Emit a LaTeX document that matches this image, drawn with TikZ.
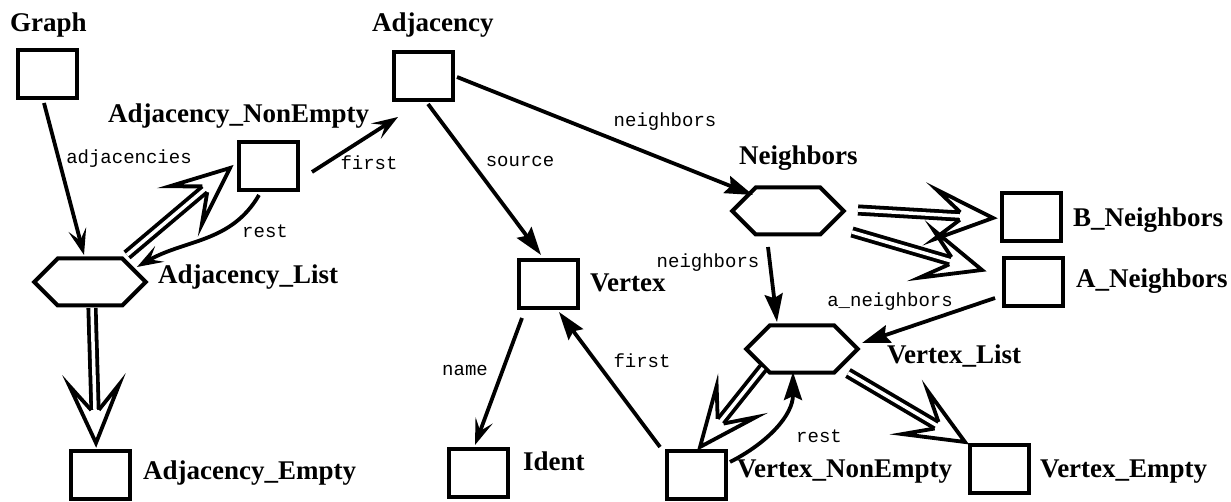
\documentclass[tikz,border=0pt]{standalone}
\usepackage{fontspec}
\setmainfont{Liberation Serif}
\setmonofont{Liberation Mono}
\usetikzlibrary{arrows.meta,calc,shapes.symbols,decorations.markings}
\tikzset{
  box/.style={draw, line width=4pt, minimum width=59pt, minimum height=48pt, inner sep=0pt},
  hex/.style={signal, signal to=east and west, signal pointer angle=90, draw, line width=4pt,
              minimum width=111.5pt, minimum height=47pt, inner sep=0pt},
  lab/.style={font=\bfseries\fontsize{27}{30}\selectfont, anchor=base west, inner sep=0pt},
  elab/.style={font=\ttfamily\fontsize{19}{22}\selectfont, anchor=base, inner sep=0pt},
  arr/.style={line width=3.8pt, -{Stealth[length=28pt,width=18pt,inset=4pt]}},
  varr/.style={line width=3.8pt, -{Stealth[length=26pt,width=18pt,inset=11pt]}},
  dblhead/.style={decoration={markings, mark=at position 1 with {
      \fill[white] (-33pt,3.8pt) -- (-58pt,25pt) -- (0pt,0pt) -- (-58pt,-25pt) -- (-33pt,-3.8pt) -- cycle;
      \draw[black, line width=3.8pt, line join=miter] (-33pt,3.8pt) -- (-58pt,25pt) -- (0pt,0pt) -- (-58pt,-25pt) -- (-33pt,-3.8pt);
  }}, decorate},
  dblshaft/.style={line width=3.8pt, double=white, double distance=3.5pt, shorten >=20pt},
}
\newcommand\inharrow[2]{%
  \draw[dblshaft] (#1) -- (#2);
  \path[dblhead] (#1) -- (#2);}
\begin{document}
\begin{tikzpicture}[x=1pt, y=1pt]
\useasboundingbox (0,0) rectangle (1231,-502);
% nodes
\node[box] (graph)    at (47.5,-74) {};
\node[box] (adj)      at (423,-76) {};
\node[box] (adjne)    at (268.5,-166.5) {};
\node[hex] (adjlist)  at (90,-282) {};
\node[box] (adjempty) at (100,-475) {};
\node[box] (vertex)   at (548,-284.5) {};
\node[box] (ident)    at (478,-472.5) {};
\node[hex] (neighbors) at (788,-211) {};
\node[hex] (vlist)    at (802,-349) {};
\node[box] (bn)       at (1031.5,-217.5) {};
\node[box] (an)       at (1033.5,-282) {};
\node[box] (vne)      at (696.5,-474.5) {};
\node[box] (vempty)   at (999,-468.5) {};
% node labels
\node[lab] (l-graph)    at (10,-32)   {Graph};
\node[lab] (l-adj)      at (372,-32)  {Adjacency};
\node[lab] (l-adjne)    at (108,-123) {Adjacency\_NonEmpty};
\node[lab] (l-adjlist)  at (158,-284) {Adjacency\_List};
\node[lab] (l-adjempty) at (143,-479) {Adjacency\_Empty};
\node[lab] (l-vertex)   at (590,-292) {Vertex};
\node[lab] (l-ident)    at (523,-470) {Ident};
\node[lab] (l-neigh)    at (739,-165) {Neighbors};
\node[lab] (l-vlist)    at (887,-363) {Vertex\_List};
\node[lab] (l-bn)       at (1073,-227) {B\_Neighbors};
\node[lab] (l-an)       at (1076,-288) {A\_Neighbors};
\node[lab] (l-vne)      at (737,-477) {Vertex\_NonEmpty};
\node[lab] (l-vempty)   at (1040,-477) {Vertex\_Empty};
% edge labels
\node[elab] (e-adjac)  at (129,-164) {adjacencies};
\node[elab] (e-first1) at (369,-170) {first};
\node[elab] (e-rest1)  at (265,-238) {rest};
\node[elab] (e-neigh1) at (665,-127) {neighbors};
\node[elab] (e-source) at (520,-167) {source};
\node[elab] (e-neigh2) at (708,-268) {neighbors};
\node[elab] (e-aneigh) at (890,-307) {a\_neighbors};
\node[elab] (e-name)   at (465,-375) {name};
\node[elab] (e-first2) at (642,-367) {first};
\node[elab] (e-rest2)  at (819,-442) {rest};
% single arrows
\draw[varr] ($(graph)+(-3.5,-29)$) -- ($(adjlist)+(-6,27)$);
\draw[varr] ($(adjne)+(43.5,-5.5)$) -- ($(adj)+(-25,-41)$);
\draw[varr] ($(adjne)+(-9.5,-28.5)$) to[out=240,in=30] ($(adjlist)+(47,15)$);
\draw[arr] ($(adj)+(5,-28)$) -- ($(vertex)+(-7,29.5)$);
\draw[arr] ($(adj)+(34,-1)$) -- ($(neighbors)+(-35,16)$);
\draw[varr] ($(vertex)+(-26,-33.5)$) -- ($(ident)+(-3,27.5)$);
\draw[arr] ($(vne)+(-36.5,27.5)$) -- ($(vertex)+(11,-27.5)$);
\draw[arr] ($(neighbors)+(-20,-36)$) -- ($(vlist)+(-25,27)$);
\draw[arr] ($(an)+(-38.5,-16)$) -- ($(vlist)+(60,6)$);
\draw[arr] ($(vne)+(33.5,12.5)$) to[out=27,in=-90] ($(vlist)+(-9,-23)$);
% double (inheritance) arrows
\inharrow{$(adjlist)+(37,27)$}{$(adjne)+(-38.5,-1.5)$}
\inharrow{$(adjlist)+(2,-26)$}{$(adjempty)+(-4,32)$}
\inharrow{$(neighbors)+(70,1)$}{$(bn)+(-38.5,-0.5)$}
\inharrow{$(neighbors)+(64,-21)$}{$(an)+(-51.5,12)$}
\inharrow{$(vlist)+(-39,-19)$}{$(vne)+(3.5,27.5)$}
\inharrow{$(vlist)+(46,-24)$}{$(vempty)+(-34,26.5)$}
\end{tikzpicture}
\end{document}
